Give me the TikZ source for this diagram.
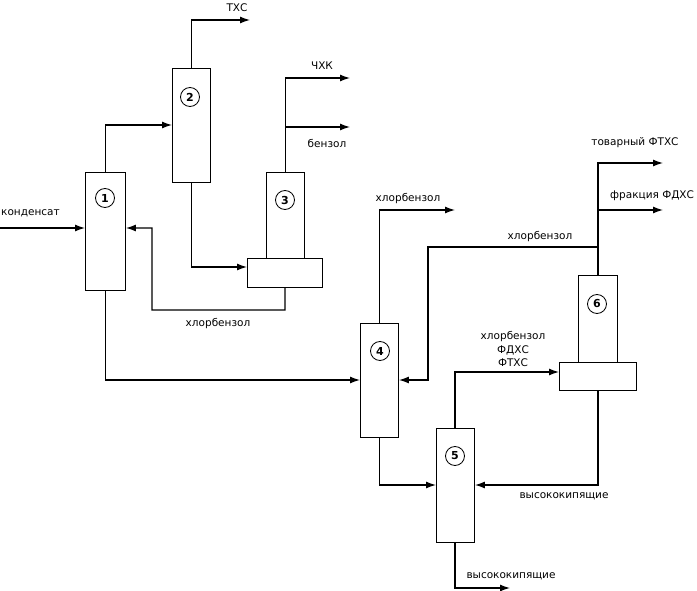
\documentclass[tikz,border=0pt]{standalone}
\usepackage{fontspec}
\setmainfont{DejaVu Sans}
\usetikzlibrary{arrows.meta}
\begin{document}
\begin{tikzpicture}[x=1pt,y=-1pt,
  col/.style={draw,line width=0.9pt,inner sep=0,anchor=north west},
  num/.style={draw,circle,line width=0.8pt,inner sep=0.5pt,minimum size=19pt,font=\fontsize{11}{13}\selectfont\bfseries},
  lbl/.style={font=\fontsize{10.5}{12}\selectfont,inner sep=1pt},
  fl/.style={line width=1.3pt,-{Latex[length=10pt,width=7pt]}}]
\useasboundingbox (0,0) rectangle (697,591);
% columns
\node[col,minimum width=40pt,minimum height=118pt] (c1) at (85,172) {};
\node[col,minimum width=38pt,minimum height=114pt] (c2) at (172,68) {};
\node[col,minimum width=38pt,minimum height=86pt] (c3) at (266,172) {};
\node[col,minimum width=75pt,minimum height=29pt] (b3) at (247,258) {};
\node[col,minimum width=38pt,minimum height=114pt] (c4) at (360,323) {};
\node[col,minimum width=38pt,minimum height=114pt] (c5) at (436,428) {};
\node[col,minimum width=39pt,minimum height=87pt] (c6) at (578,275) {};
\node[col,minimum width=77pt,minimum height=28pt] (b6) at (559,362) {};
\node[num] (n1) at (105,198) {1};
\node[num] (n2) at (190,97) {2};
\node[num] (n3) at (285,200) {3};
\node[num] (n4) at (380,351) {4};
\node[num] (n5) at (455,456) {5};
\node[num] (n6) at (597,304) {6};
% coordinates
\coordinate (in) at (0,228);
\coordinate (o2) at (250,20);
\coordinate (o3a) at (350,78);
\coordinate (o3b) at (350,127);
\coordinate (o4) at (455,210);
\coordinate (o6a) at (663,163);
\coordinate (o6b) at (663,210);
\coordinate (o5) at (510,588);
% flows
\draw[fl] (in) -- (c1.west|-in);
\draw[fl] (c1.north) |- (172,125);
\draw[fl] (c2.north) |- (o2);
\draw[fl] (c2.south) |- (b3.west|-0,267);
\draw[fl] (c3.north) |- (o3a);
\draw[fl] (285,127) -- (o3b);
\draw[fl] (b3.south) -- (285,310) -- (152,310) -- (152,228) -- (c1.east|-0,228);
\draw[fl] (c1.south) |- (c4.west|-0,380);
\draw[fl] (c4.north) |- (o4);
\draw[fl] (c6.north) |- (o6a);
\draw[fl] (597,210) -- (o6b);
\draw[fl] (597,247) -- (428,247) -- (428,380) -- (c4.east|-0,380);
\draw[fl] (c4.south) |- (c5.west|-0,485);
\draw[fl] (455,428) |- (b6.west|-0,372);
\draw[fl] (b6.south) |- (c5.east|-0,485);
\draw[fl] (455,542) |- (o5);
% labels
\node[lbl,anchor=west] (l1) at (0,213) {конденсат};
\node[lbl] (l2) at (237,8) {ТХС};
\node[lbl] (l3) at (322,66) {ЧХК};
\node[lbl] (l4) at (327,143) {бензол};
\node[lbl] (l5) at (218,324) {хлорбензол};
\node[lbl] (l6) at (408,199) {хлорбензол};
\node[lbl] (l7) at (540,237) {хлорбензол};
\node[lbl] (l8) at (635,143) {товарный ФТХС};
\node[lbl,anchor=west] (l9) at (609,196) {фракция ФДХС};
\node[lbl,align=center,font=\fontsize{10.5}{13.5}\selectfont] (l10) at (513,349) {хлорбензол\\ФДХС\\ФТХС};
\node[lbl] (l11) at (564,496) {высококипящие};
\node[lbl] (l12) at (511,576) {высококипящие};
\end{tikzpicture}
\end{document}
